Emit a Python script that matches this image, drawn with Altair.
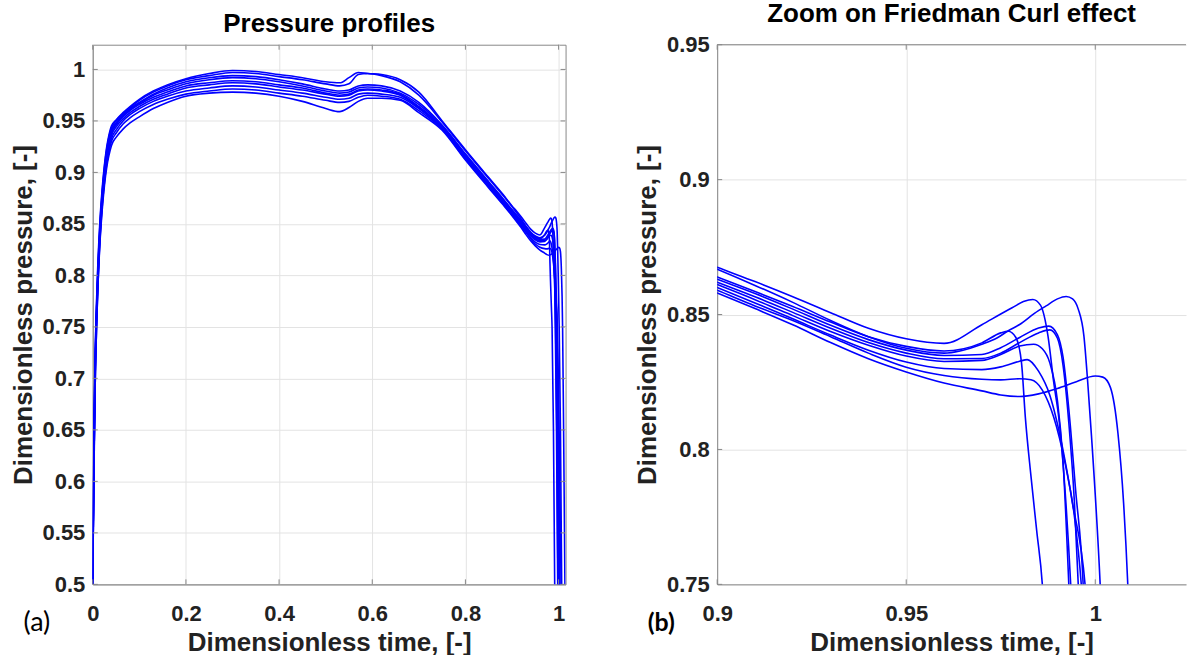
import altair as alt
import pandas as pd

# ---------------- data ----------------
t_body = [0, 0.002, 0.005, 0.01, 0.015, 0.02, 0.025, 0.03, 0.035, 0.04,
          0.05, 0.065, 0.08, 0.1, 0.13, 0.16, 0.2, 0.25, 0.3, 0.35,
          0.4, 0.45, 0.5, 0.53, 0.55, 0.57, 0.59, 0.62, 0.66, 0.7,
          0.75, 0.8, 0.85, 0.88]

body_1 = [0.5, 0.63, 0.72, 0.80, 0.85, 0.883, 0.907, 0.925, 0.937, 0.945,
          0.951, 0.958, 0.964, 0.971, 0.979, 0.985, 0.991, 0.996, 0.999, 0.998,
          0.995, 0.992, 0.988, 0.987, 0.992, 0.997, 0.996, 0.995, 0.990, 0.978,
          0.950, 0.922, 0.895, 0.879]
body_2 = [0.5, 0.62, 0.715, 0.795, 0.846, 0.88, 0.905, 0.923, 0.935, 0.943,
          0.950, 0.957, 0.963, 0.970, 0.978, 0.984, 0.990, 0.994, 0.997, 0.996,
          0.993, 0.990, 0.986, 0.984, 0.986, 0.995, 0.996, 0.994, 0.988, 0.975,
          0.949, 0.921, 0.894, 0.878]
body_3 = [0.5, 0.61, 0.71, 0.79, 0.842, 0.877, 0.902, 0.92, 0.933, 0.941,
          0.948, 0.956, 0.962, 0.968, 0.976, 0.982, 0.988, 0.992, 0.994, 0.993,
          0.990, 0.986, 0.981, 0.979, 0.980, 0.984, 0.985, 0.984, 0.979, 0.968,
          0.946, 0.918, 0.891, 0.875]
body_4 = [0.5, 0.62, 0.71, 0.79, 0.84, 0.875, 0.9, 0.918, 0.931, 0.94,
          0.947, 0.955, 0.961, 0.967, 0.975, 0.980, 0.986, 0.990, 0.992, 0.991,
          0.988, 0.984, 0.979, 0.977, 0.978, 0.982, 0.983, 0.982, 0.977, 0.966,
          0.945, 0.917, 0.890, 0.874]
body_5 = [0.5, 0.60, 0.70, 0.785, 0.838, 0.873, 0.898, 0.916, 0.929, 0.938,
          0.946, 0.954, 0.960, 0.966, 0.973, 0.978, 0.984, 0.987, 0.989, 0.988,
          0.985, 0.982, 0.977, 0.975, 0.976, 0.980, 0.981, 0.980, 0.976, 0.964,
          0.944, 0.916, 0.889, 0.873]
body_6 = [0.5, 0.61, 0.705, 0.785, 0.836, 0.871, 0.896, 0.914, 0.927, 0.936,
          0.944, 0.952, 0.958, 0.964, 0.971, 0.976, 0.982, 0.985, 0.987, 0.986,
          0.983, 0.980, 0.976, 0.974, 0.975, 0.979, 0.980, 0.979, 0.975, 0.963,
          0.943, 0.915, 0.888, 0.872]
body_7 = [0.5, 0.60, 0.70, 0.78, 0.833, 0.868, 0.893, 0.911, 0.924, 0.933,
          0.941, 0.950, 0.956, 0.962, 0.969, 0.974, 0.979, 0.982, 0.984, 0.983,
          0.980, 0.977, 0.973, 0.971, 0.972, 0.976, 0.977, 0.976, 0.973, 0.962,
          0.943, 0.914, 0.887, 0.871]
body_8 = [0.5, 0.59, 0.69, 0.775, 0.83, 0.865, 0.89, 0.908, 0.921, 0.93,
          0.938, 0.947, 0.953, 0.959, 0.966, 0.971, 0.976, 0.979, 0.981, 0.980,
          0.977, 0.974, 0.970, 0.968, 0.969, 0.973, 0.975, 0.974, 0.971, 0.960,
          0.942, 0.913, 0.886, 0.870]
body_9 = [0.5, 0.60, 0.69, 0.775, 0.828, 0.862, 0.887, 0.905, 0.917, 0.926,
          0.934, 0.942, 0.948, 0.954, 0.962, 0.968, 0.974, 0.977, 0.978, 0.977,
          0.974, 0.969, 0.962, 0.959, 0.963, 0.969, 0.972, 0.972, 0.970, 0.958,
          0.941, 0.912, 0.885, 0.869]

t_zoom = [0.90, 0.91, 0.92, 0.93, 0.94, 0.95, 0.96, 0.97]
zoom_1 = [0.8675, 0.8622, 0.8566, 0.8507, 0.8449, 0.8410, 0.8393, 0.8462]
zoom_2 = [0.8668, 0.8608, 0.8545, 0.8478, 0.8418, 0.8375, 0.8357, 0.8390]
zoom_3 = [0.8639, 0.8585, 0.8530, 0.8472, 0.8418, 0.8382, 0.8365, 0.8395]
zoom_4 = [0.8631, 0.8578, 0.8520, 0.8460, 0.8407, 0.8368, 0.8348, 0.8352]
zoom_5 = [0.8620, 0.8566, 0.8508, 0.8449, 0.8396, 0.8357, 0.8336, 0.8337]
zoom_6 = [0.8611, 0.8555, 0.8496, 0.8437, 0.8386, 0.8346, 0.8326, 0.8330]
zoom_7 = [0.8600, 0.8543, 0.8484, 0.8424, 0.8368, 0.8324, 0.8300, 0.8296]
zoom_8 = [0.8590, 0.8532, 0.8478, 0.8418, 0.8357, 0.8305, 0.8274, 0.8260]
zoom_9 = [0.8580, 0.8522, 0.8462, 0.8396, 0.8336, 0.8287, 0.8246, 0.8217]

end_t_1 = [0.975, 0.978, 0.981, 0.9835, 0.9855, 0.9875, 0.989, 0.9905, 0.992, 0.9935, 0.996, 0.999]
end_p_1 = [0.8502, 0.8525, 0.8548, 0.8556, 0.8535, 0.842, 0.825, 0.81, 0.785, 0.75, 0.66, 0.48]
end_t_2 = [0.974, 0.977, 0.980, 0.984, 0.987, 0.990, 0.9923, 0.994, 0.9955, 0.997, 0.998, 0.999, 1.0013, 1.004, 1.007]
end_p_2 = [0.8413, 0.8440, 0.8463, 0.8505, 0.8532, 0.8558, 0.8567, 0.8558, 0.852, 0.842, 0.825, 0.805, 0.75, 0.65, 0.48]
end_t_3 = [0.975, 0.977, 0.979, 0.9805, 0.9815, 0.983, 0.9845, 0.986, 0.989, 0.992]
end_p_3 = [0.8432, 0.8438, 0.8415, 0.832, 0.812, 0.79, 0.77, 0.75, 0.65, 0.48]
end_t_4 = [0.975, 0.980, 0.985, 0.9877, 0.990, 0.9915, 0.993, 0.9948, 0.9968, 0.999, 1.002]
end_p_4 = [0.8377, 0.8415, 0.8450, 0.8457, 0.8425, 0.834, 0.815, 0.785, 0.75, 0.65, 0.48]
end_t_5 = [0.975, 0.980, 0.985, 0.988, 0.990, 0.9915, 0.993, 0.9945, 0.9955, 0.998, 1.001]
end_p_5 = [0.8357, 0.8396, 0.8432, 0.8443, 0.8412, 0.831, 0.81, 0.78, 0.75, 0.65, 0.48]
end_t_6 = [0.975, 0.980, 0.9837, 0.986, 0.988, 0.990, 0.9915, 0.993, 0.9955, 0.9985]
end_p_6 = [0.8352, 0.8383, 0.8390, 0.8373, 0.832, 0.818, 0.795, 0.75, 0.65, 0.48]
end_t_7 = [0.975, 0.980, 0.982, 0.985, 0.988, 0.991, 0.994, 0.9973, 1.000, 1.004, 1.006]
end_p_7 = [0.8306, 0.8327, 0.8333, 0.829, 0.820, 0.803, 0.780, 0.75, 0.69, 0.55, 0.48]
end_t_8 = [0.975, 0.980, 0.983, 0.986, 0.989, 0.992, 0.9945, 0.9963, 0.999, 1.003]
end_p_8 = [0.8258, 0.8262, 0.8258, 0.822, 0.812, 0.795, 0.775, 0.75, 0.68, 0.48]
end_t_9 = [0.975, 0.980, 0.985, 0.990, 0.995, 1.000, 1.002, 1.004, 1.006, 1.0075, 1.0086, 1.011, 1.014]
end_p_9 = [0.8202, 0.8196, 0.8206, 0.8226, 0.8251, 0.8272, 0.8268, 0.823, 0.806, 0.78, 0.75, 0.64, 0.48]

x_ticks_a = [0, 0.2, 0.4, 0.6, 0.8, 1]
y_ticks_a = [0.5, 0.55, 0.6, 0.65, 0.7, 0.75, 0.8, 0.85, 0.9, 0.95, 1]
x_ticks_b = [0.9, 0.95, 1]
y_ticks_b = [0.75, 0.8, 0.85, 0.9, 0.95]

# ---------------- build table ----------------
bodies = [body_1, body_2, body_3, body_4, body_5, body_6, body_7, body_8, body_9]
zooms = [zoom_1, zoom_2, zoom_3, zoom_4, zoom_5, zoom_6, zoom_7, zoom_8, zoom_9]
end_ts = [end_t_1, end_t_2, end_t_3, end_t_4, end_t_5, end_t_6, end_t_7, end_t_8, end_t_9]
end_ps = [end_p_1, end_p_2, end_p_3, end_p_4, end_p_5, end_p_6, end_p_7, end_p_8, end_p_9]

rows = []
for k in range(9):
    ts = t_body + t_zoom + end_ts[k]
    ps = bodies[k] + zooms[k] + end_ps[k]
    for t, p in zip(ts, ps):
        rows.append({"curve": f"c{k+1}", "t": t, "p": p})
df = pd.DataFrame(rows)

FONT = "Liberation Sans"
BLUE = "#0000ff"
AXC = "#888888"
W_A, W_B, H = 474, 470, 541
TK = 5


def panel(xdom, ydom, xt, yt, w, title, tag, tag_bold, box):
    xscale = alt.Scale(domain=xdom, nice=False, zero=False)
    yscale = alt.Scale(domain=ydom, nice=False, zero=False)
    lines = alt.Chart(df).mark_line(
        color=BLUE, strokeWidth=1.6, clip=True, interpolate="monotone"
    ).encode(
        x=alt.X("t:Q", scale=xscale,
                axis=alt.Axis(values=xt, format="~g", title="Dimensionless time, [-]")),
        y=alt.Y("p:Q", scale=yscale,
                axis=alt.Axis(values=yt, format="~g", title="Dimensionless pressure, [-]")),
        detail="curve:N",
    )
    dfx = pd.DataFrame({"v": xt})
    dfy = pd.DataFrame({"v": yt})
    layers = [lines]
    layers.append(alt.Chart(dfx).mark_rule(color=AXC).encode(
        x=alt.X("v:Q", scale=xscale), y=alt.value(H), y2=alt.value(H - TK)))
    layers.append(alt.Chart(dfx).mark_rule(color=AXC).encode(
        x=alt.X("v:Q", scale=xscale), y=alt.value(0), y2=alt.value(TK)))
    layers.append(alt.Chart(dfy).mark_rule(color=AXC).encode(
        y=alt.Y("v:Q", scale=yscale), x=alt.value(0), x2=alt.value(TK)))
    if box:
        layers.append(alt.Chart(dfy).mark_rule(color=AXC).encode(
            y=alt.Y("v:Q", scale=yscale), x=alt.value(w), x2=alt.value(w - TK)))
    else:
        layers.append(alt.Chart(pd.DataFrame({"v": [0]})).mark_rule(color=AXC).encode(
            y=alt.value(0), x=alt.value(0), x2=alt.value(w)))
    layers.append(alt.Chart(pd.DataFrame({"lab": [tag]})).mark_text(
        font="Lato", fontSize=27 if not tag_bold else 25,
        fontWeight="bold" if tag_bold else "normal",
        color="#000000", align="center", baseline="middle"
    ).encode(text="lab:N", x=alt.value(-56), y=alt.value(H + 39)))
    ch = alt.layer(*layers).properties(
        width=w, height=H,
        title=alt.TitleParams(title, fontSize=26, fontWeight="bold", font=FONT,
                              color="#000000", anchor="middle", offset=7),
    )
    if not box:
        ch = ch.properties(view=alt.ViewBackground(strokeOpacity=0))
    return ch


left = panel([0, 1.015], [0.5, 1.024], x_ticks_a, y_ticks_a, W_A,
             "Pressure profiles", "(a)", False, True)
right = panel([0.9, 1.024], [0.75, 0.95], x_ticks_b, y_ticks_b, W_B,
              "Zoom on Friedman Curl effect", "(b)", True, False)

chart = alt.hconcat(left, right, spacing=68).properties(
    padding={"left": 9, "top": 0, "right": 0, "bottom": 0},
    background="#ffffff",
).configure_view(
    stroke=AXC, strokeWidth=1
).configure_axis(
    labelFont=FONT, labelFontSize=22, labelFontWeight="bold", labelColor="#222222",
    titleFont=FONT, titleFontSize=26, titleFontWeight="bold", titleColor="#222222",
    grid=True, gridColor="#e3e3e3", gridWidth=1,
    ticks=False, domain=True, domainColor=AXC, domainWidth=1,
    labelFlush=False, labelOverlap=False,
).configure_axisX(
    labelPadding=19, titlePadding=5,
).configure_axisY(
    labelPadding=8, titlePadding=6,
)

chart.save("out.html", embed_options={"renderer": "svg", "actions": False})
